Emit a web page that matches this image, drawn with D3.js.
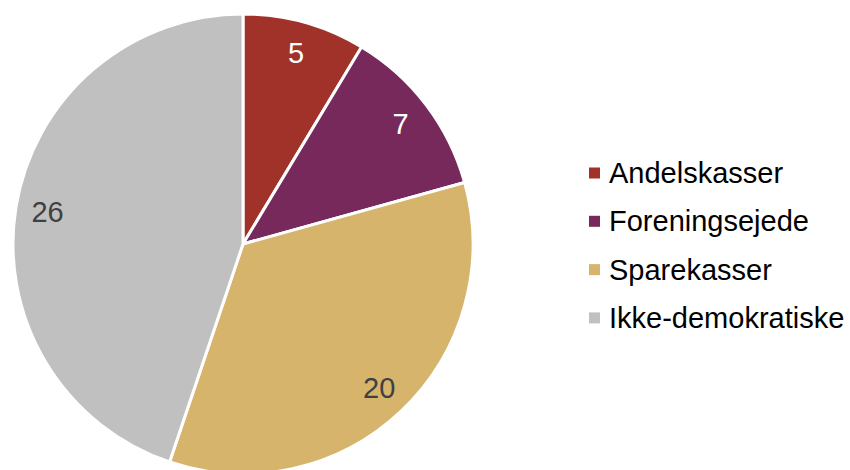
<!DOCTYPE html>
<html>
<head>
<meta charset="utf-8">
<script src="https://cdn.jsdelivr.net/npm/d3@7"></script>
<style>
  body { margin: 0; background: #fff; }
  text { font-family: "Liberation Sans", Arial, sans-serif; }
</style>
</head>
<body>
<svg width="850" height="470"></svg>
<script>
var categories = ["Andelskasser", "Foreningsejede", "Sparekasser", "Ikke-demokratiske"];
var values = [5, 7, 20, 26];
var colors = ["#A0322A", "#76295A", "#D6B46B", "#C0C0C0"];
var labelColors = ["#fff", "#fff", "#404040", "#404040"];

var svg = d3.select("svg"),
	cx = 243,
	cy = 244,
	radius = 230;

var data = categories.map(function (c, i) {
	return { name: c, value: values[i], i: i };
});

var pie = d3.pie().sort(null).value(function (d) { return d.value; });
var arc = d3.arc().innerRadius(0).outerRadius(radius);
var labelArc = d3.arc().innerRadius(198).outerRadius(198);

var g = svg.append("g").attr("transform", "translate(" + cx + "," + cy + ")");

var arcs = pie(data);

g.selectAll("path")
	.data(arcs)
	.enter().append("path")
	.attr("d", arc)
	.attr("fill", function (d) { return colors[d.data.i]; })
	.attr("stroke", "#fff")
	.attr("stroke-width", 3)
	.attr("stroke-linejoin", "round");

g.selectAll("text.lbl")
	.data(arcs)
	.enter().append("text")
	.attr("class", "lbl")
	.attr("transform", function (d) { return "translate(" + labelArc.centroid(d) + ")"; })
	.attr("text-anchor", "middle")
	.attr("dy", "0.35em")
	.attr("font-size", 29)
	.attr("fill", function (d) { return labelColors[d.data.i]; })
	.text(function (d) { return d.data.value; });

// legend
var legend = svg.append("g").attr("transform", "translate(589,173)");
var item = legend.selectAll("g")
	.data(data)
	.enter().append("g")
	.attr("transform", function (d, i) { return "translate(0," + (i * 48.3) + ")"; });

item.append("rect")
	.attr("x", 0)
	.attr("y", -5.5)
	.attr("width", 11)
	.attr("height", 11)
	.attr("fill", function (d) { return colors[d.i]; });

item.append("text")
	.attr("x", 20)
	.attr("dy", "0.35em")
	.attr("font-size", 29)
	.attr("fill", "#000")
	.text(function (d) { return d.name; });
</script>
</body>
</html>
